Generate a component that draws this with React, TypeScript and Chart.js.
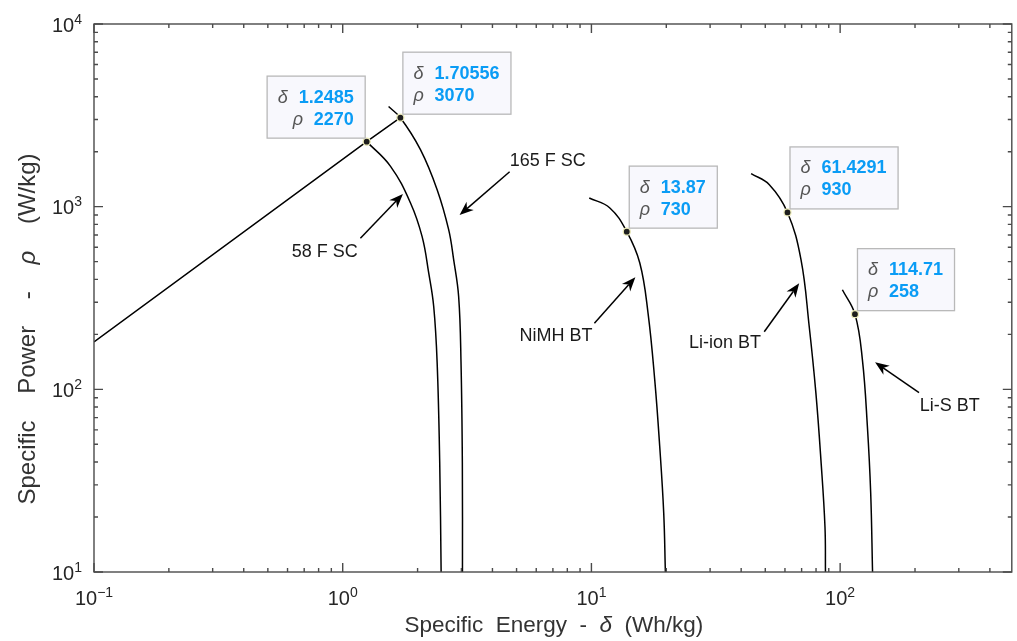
import { useEffect, useRef } from "react";
import { Chart, registerables } from "chart.js";

Chart.register(...registerables);

// ---------- data (specific energy δ in Wh/kg, specific power ρ in W/kg) ----------
const lineDelta = [0.1, 1.2485, 1.70556];
const linePower = [182, 2270, 3070];

const sc58Delta = [1.2485, 1.557, 1.873, 2.086, 2.216, 2.322, 2.397, 2.455, 2.487];
const sc58Power = [2270, 1663, 1048, 685, 435, 284, 140, 39.5, 10];

const sc165Delta = [1.529, 1.70556, 2.054, 2.397, 2.667, 2.793, 2.925, 2.99, 3.027, 3.03];
const sc165Power = [3532, 3070, 2053, 1239, 748, 513, 322, 140, 39.5, 10];

const nimhDelta = [9.8, 11.86, 13.87, 15.65, 16.89, 17.97, 18.82, 19.53, 19.83];
const nimhPower = [1116, 984, 730, 491.5, 261.5, 112.7, 48.6, 21, 10];

const liionDelta = [43.87, 51.92, 61.4291, 69.6, 75.1, 79.9, 83.7, 86.9, 87.3];
const liionPower = [1517, 1320, 930, 512.5, 220.9, 95.3, 41.1, 17.7, 10];

const lisDelta = [102.1, 114.71, 122.9, 128.7, 132.7, 135];
const lisPower = [350.8, 258, 145, 62.6, 27, 10];

// data tips
const tipDelta = [1.2485, 1.70556, 13.87, 61.4291, 114.71];
const tipPower = [2270, 3070, 730, 930, 258];
const tipDeltaText = ["1.2485", "1.70556", "13.87", "61.4291", "114.71"];
const tipPowerText = ["2270", "3070", "730", "930", "258"];
const tipSide = ["left", "right", "right", "right", "right"];

// annotations (text + arrows), anchored in data coordinates
const annoText = ["58 F SC", "165 F SC", "NiMH BT", "Li-ion BT", "Li-S BT"];
const annoAlign = ["right", "left", "right", "right", "left"];
const annoTextDelta = [1.149, 4.69, 10.09, 48.03, 208.9];
const annoTextPower = [567, 1785, 195.9, 178.6, 81.1];
const arrowTailDelta = [1.178, 4.69, 10.28, 49.53, 207.6];
const arrowTailPower = [671, 1554, 229.9, 206.8, 95.8];
const arrowTipDelta = [1.746, 2.95, 15.02, 68.44, 138.2];
const arrowTipPower = [1173, 900, 410.6, 380.6, 140.6];

// axes
const xMin = 0.1;
const xMax = 490;
const yMin = 10;
const yMax = 10000;
const xTickExponents = [-1, 0, 1, 2];
const yTickExponents = [1, 2, 3, 4];
const minorMultipliers = [2, 3, 4, 5, 6, 7, 8, 9];
const xTitle = ["Specific  Energy  -  ", "\u03b4", "  (Wh/kg)"];
const yTitle = ["Specific    Power    -    ", "\u03c1", "    (W/kg)"];

const FONT = '"Liberation Sans", Arial, Helvetica, sans-serif';

function toPts(xs: number[], ys: number[]) {
  return xs.map((x, i) => ({ x, y: ys[i] }));
}

function supText(e: number) {
  return e < 0 ? "\u2212" + String(-e) : String(e);
}

function drawSup(ctx: CanvasRenderingContext2D, exp: string, x: number, y: number, align: string) {
  ctx.font = `20px ${FONT}`;
  const wb = ctx.measureText("10").width;
  ctx.font = `14px ${FONT}`;
  const we = ctx.measureText(exp).width;
  const total = wb + we;
  const sx = align === "center" ? x - total / 2 : x - total;
  ctx.textAlign = "left";
  ctx.textBaseline = "alphabetic";
  ctx.font = `20px ${FONT}`;
  ctx.fillText("10", sx, y);
  ctx.font = `14px ${FONT}`;
  ctx.fillText(exp, sx + wb, y - 8);
}

function drawSegments(
  ctx: CanvasRenderingContext2D,
  segs: { t: string; f: string }[],
  cx: number,
  y: number
) {
  let total = 0;
  const ws = segs.map((s) => {
    ctx.font = s.f;
    const w = ctx.measureText(s.t).width;
    total += w;
    return w;
  });
  let x = cx - total / 2;
  ctx.textAlign = "left";
  segs.forEach((s, i) => {
    ctx.font = s.f;
    ctx.fillText(s.t, x, y);
    x += ws[i];
  });
}

function drawArrow(ctx: CanvasRenderingContext2D, x1: number, y1: number, x2: number, y2: number) {
  const a = Math.atan2(y2 - y1, x2 - x1);
  const c = Math.cos(a);
  const s = Math.sin(a);
  const L = 14;
  const W = 5.5;
  ctx.strokeStyle = "#000";
  ctx.lineWidth = 1.5;
  ctx.beginPath();
  ctx.moveTo(x1, y1);
  ctx.lineTo(x2 - L * 0.7 * c, y2 - L * 0.7 * s);
  ctx.stroke();
  ctx.fillStyle = "#000";
  ctx.beginPath();
  ctx.moveTo(x2, y2);
  ctx.lineTo(x2 - L * c + W * s, y2 - L * s - W * c);
  ctx.lineTo(x2 - L * 0.7 * c, y2 - L * 0.7 * s);
  ctx.lineTo(x2 - L * c - W * s, y2 - L * s + W * c);
  ctx.closePath();
  ctx.fill();
}

const decorPlugin = {
  id: "matlabDecor",
  afterDatasetsDraw(chart: any) {
    const ctx: CanvasRenderingContext2D = chart.ctx;
    const sx = chart.scales.x;
    const sy = chart.scales.y;
    const { left, right, top, bottom } = chart.chartArea;
    ctx.save();

    // frame
    ctx.strokeStyle = "#4a4a4a";
    ctx.lineWidth = 1.4;
    ctx.strokeRect(left, top, right - left, bottom - top);

    // ticks
    ctx.beginPath();
    xTickExponents.forEach((e) => {
      [1, ...minorMultipliers].forEach((m) => {
        const v = m * Math.pow(10, e);
        if (v < xMin || v > xMax) return;
        const px = sx.getPixelForValue(v);
        const len = m === 1 ? 9 : 4;
        ctx.moveTo(px, bottom);
        ctx.lineTo(px, bottom - len);
        ctx.moveTo(px, top);
        ctx.lineTo(px, top + len);
      });
    });
    yTickExponents.forEach((e) => {
      [1, ...minorMultipliers].forEach((m) => {
        const v = m * Math.pow(10, e);
        if (v < yMin || v > yMax) return;
        const py = sy.getPixelForValue(v);
        const len = m === 1 ? 9 : 4;
        ctx.moveTo(left, py);
        ctx.lineTo(left + len, py);
        ctx.moveTo(right, py);
        ctx.lineTo(right - len, py);
      });
    });
    ctx.stroke();

    // tick labels
    ctx.fillStyle = "#262626";
    xTickExponents.forEach((e) => {
      const px = sx.getPixelForValue(Math.pow(10, e));
      drawSup(ctx, supText(e), px, bottom + 33, "center");
    });
    yTickExponents.forEach((e) => {
      const py = sy.getPixelForValue(Math.pow(10, e));
      drawSup(ctx, supText(e), left - 12, py + 7.5, "right");
    });

    // axis titles
    ctx.fillStyle = "#333";
    ctx.textBaseline = "alphabetic";
    const nf = `22.5px ${FONT}`;
    const itf = `italic 22.5px ${FONT}`;
    drawSegments(
      ctx,
      [
        { t: xTitle[0], f: nf },
        { t: xTitle[1], f: itf },
        { t: xTitle[2], f: nf },
      ],
      (left + right) / 2 + 1,
      632
    );
    const nfy = `24px ${FONT}`;
    const itfy = `italic 24px ${FONT}`;
    ctx.save();
    ctx.translate(35, 329);
    ctx.rotate(-Math.PI / 2);
    drawSegments(
      ctx,
      [
        { t: yTitle[0], f: nfy },
        { t: yTitle[1], f: itfy },
        { t: yTitle[2], f: nfy },
      ],
      0,
      0
    );
    ctx.restore();

    // annotations
    annoText.forEach((t, i) => {
      const tx = sx.getPixelForValue(arrowTailDelta[i]);
      const ty = sy.getPixelForValue(arrowTailPower[i]);
      const hx = sx.getPixelForValue(arrowTipDelta[i]);
      const hy = sy.getPixelForValue(arrowTipPower[i]);
      drawArrow(ctx, tx, ty, hx, hy);
      const lx = sx.getPixelForValue(annoTextDelta[i]);
      const ly = sy.getPixelForValue(annoTextPower[i]);
      ctx.fillStyle = "#1a1a1a";
      ctx.font = `18px ${FONT}`;
      ctx.textAlign = annoAlign[i] as CanvasTextAlign;
      ctx.textBaseline = "middle";
      ctx.fillText(t, lx, ly);
    });

    // data tips
    const symFont = `italic 18px ${FONT}`;
    const valFont = `bold 18px ${FONT}`;
    const symCol = 21;
    const padL = 11;
    const padR = 12;
    const boxH = 63;
    tipDelta.forEach((d, i) => {
      const px = sx.getPixelForValue(d);
      const py = sy.getPixelForValue(tipPower[i]);
      ctx.font = valFont;
      const w1 = ctx.measureText(tipDeltaText[i]).width;
      const w2 = ctx.measureText(tipPowerText[i]).width;
      const boxW = padL + symCol + Math.max(w1, w2) + padR;
      const left = tipSide[i] === "left";
      const bx = left ? px - 1 - boxW : px + 2;
      const by = py - 3 - boxH;
      ctx.fillStyle = "#f8f8fd";
      ctx.fillRect(bx, by, boxW, boxH);
      ctx.strokeStyle = "#b9b9b9";
      ctx.lineWidth = 1.3;
      ctx.strokeRect(bx + 0.5, by + 0.5, boxW - 1, boxH - 1);
      ctx.textBaseline = "alphabetic";
      ctx.textAlign = "left";
      const rows = [
        { s: "\u03b4", v: tipDeltaText[i], w: w1, y: by + 27 },
        { s: "\u03c1", v: tipPowerText[i], w: w2, y: by + 49 },
      ];
      rows.forEach((r) => {
        const vx = left ? bx + boxW - padR - r.w : bx + padL + symCol;
        ctx.font = symFont;
        ctx.fillStyle = "#555";
        ctx.fillText(r.s, vx - symCol, r.y);
        ctx.font = valFont;
        ctx.fillStyle = "#0a9cf5";
        ctx.fillText(r.v, vx, r.y);
      });
    });

    ctx.restore();
  },
};

const curveStyle = {
  showLine: true,
  borderColor: "#000",
  borderWidth: 1.5,
  pointRadius: 0,
  fill: false,
  tension: 0.4,
};

export default function App() {
  const ref = useRef<HTMLCanvasElement | null>(null);

  useEffect(() => {
    if (!ref.current) return;
    const chart = new Chart(ref.current, {
      type: "scatter",
      data: {
        datasets: [
          {
            label: "tips",
            data: toPts(tipDelta, tipPower),
            showLine: false,
            pointRadius: 3.5,
            pointBackgroundColor: "#1e1e1e",
            pointBorderColor: "#ecebb8",
            pointBorderWidth: 1.2,
          },
          { label: "line", data: toPts(lineDelta, linePower), ...curveStyle, tension: 0 },
          { label: "58 F SC", data: toPts(sc58Delta, sc58Power), ...curveStyle },
          { label: "165 F SC", data: toPts(sc165Delta, sc165Power), ...curveStyle },
          { label: "NiMH BT", data: toPts(nimhDelta, nimhPower), ...curveStyle },
          { label: "Li-ion BT", data: toPts(liionDelta, liionPower), ...curveStyle },
          { label: "Li-S BT", data: toPts(lisDelta, lisPower), ...curveStyle },
        ],
      },
      options: {
        animation: false,
        responsive: false,
        events: [],
        layout: { padding: { left: 94, top: 24, right: 4, bottom: 69 } },
        plugins: { legend: { display: false }, tooltip: { enabled: false } },
        scales: {
          x: { type: "logarithmic", min: xMin, max: xMax, display: false },
          y: { type: "logarithmic", min: yMin, max: yMax, display: false },
        },
      },
      plugins: [decorPlugin],
    });
    return () => chart.destroy();
  }, []);

  return (
    <div style={{ position: "fixed", left: 0, top: 0, width: 1017, height: 641, background: "#fff" }}>
      <canvas ref={ref} width={1017} height={641} style={{ display: "block" }} />
    </div>
  );
}
